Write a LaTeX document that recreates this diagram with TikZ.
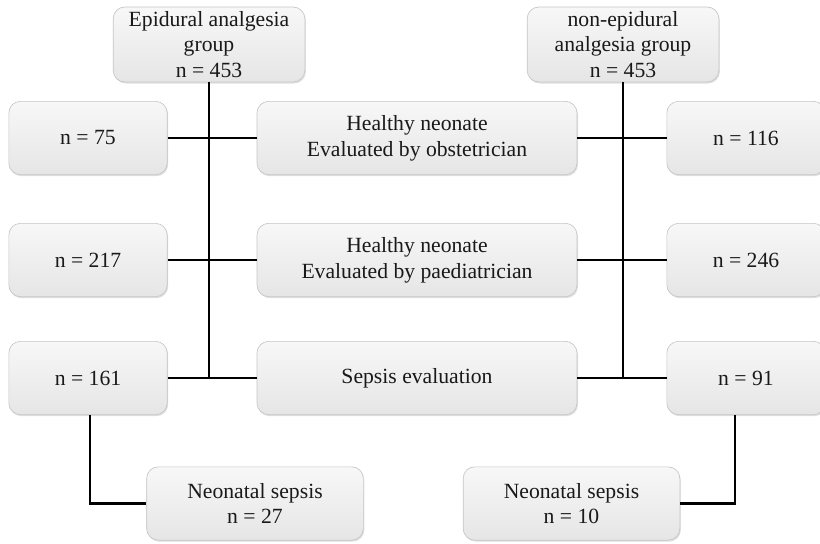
\documentclass[tikz,border=0pt]{standalone}
\usepackage{fontspec}
\setmainfont{Liberation Serif}
\usetikzlibrary{shadows}
\tikzstyle{grpbox} = [draw=gray!45, rounded corners=7pt, top color=gray!6,
    bottom color=gray!20, align=center, inner sep=2pt, text=black!90,
    font=\fontsize{13}{15.5}\selectfont,
    drop shadow={opacity=0.25, shadow xshift=0.6pt, shadow yshift=-0.9pt}]
\tikzstyle{link} = [line width=1.5pt, black]

\begin{document}
\begin{tikzpicture}[x=0.6pt, y=-0.6pt]
    \useasboundingbox (0,0) rectangle (820,543);
    % groups
    \node [grpbox, minimum width=115pt, minimum height=45pt] (epi) at (209,44.5)
        {Epidural analgesia\\group\\n = 453};
    \node [grpbox, minimum width=115pt, minimum height=45pt] (nonepi) at (623,44.5)
        {non-epidural\\analgesia group\\n = 453};
    % evaluation rows
    \node [grpbox, minimum width=192pt, minimum height=44pt] (obst) at (417,138) {Healthy neonate\\Evaluated by obstetrician};
    \node [grpbox, minimum width=192pt, minimum height=44pt] (paed) at (417,260) {Healthy neonate\\Evaluated by paediatrician};
    \node [grpbox, minimum width=192pt, minimum height=44pt] (seval) at (417,378) {Sepsis evaluation};
    % counts
    \node [grpbox, minimum width=95pt, minimum height=44pt] (n75) at (88,138) {n = 75};
    \node [grpbox, minimum width=95pt, minimum height=44pt] (n217) at (88,260) {n = 217};
    \node [grpbox, minimum width=95pt, minimum height=44pt] (n161) at (88,378) {n = 161};
    \node [grpbox, minimum width=95pt, minimum height=44pt] (n116) at (746,138) {n = 116};
    \node [grpbox, minimum width=95pt, minimum height=44pt] (n246) at (746,260) {n = 246};
    \node [grpbox, minimum width=95pt, minimum height=44pt] (n91) at (746,378) {n = 91};
    % sepsis
    \node [grpbox, minimum width=130pt, minimum height=44pt] (sep27) at (255,503.5) {Neonatal sepsis\\n = 27};
    \node [grpbox, minimum width=130pt, minimum height=44pt] (sep10) at (571.5,503.5) {Neonatal sepsis\\n = 10};

    \draw [link] (epi.south) -- (epi.south |- seval.west);
    \draw [link] (nonepi.south) -- (nonepi.south |- seval.east);
    \draw [link] (n75.east) -- (obst.west);
    \draw [link] (n217.east) -- (paed.west);
    \draw [link] (n161.east) -- (seval.west);
    \draw [link] (obst.east) -- (n116.west);
    \draw [link] (paed.east) -- (n246.west);
    \draw [link] (seval.east) -- (n91.west);
    \draw [link] ([xshift=1.2pt]n161.south) |- (sep27.west);
    \draw [link] ([xshift=-6.6pt]n91.south) |- (sep10.east);
\end{tikzpicture}
\end{document}
